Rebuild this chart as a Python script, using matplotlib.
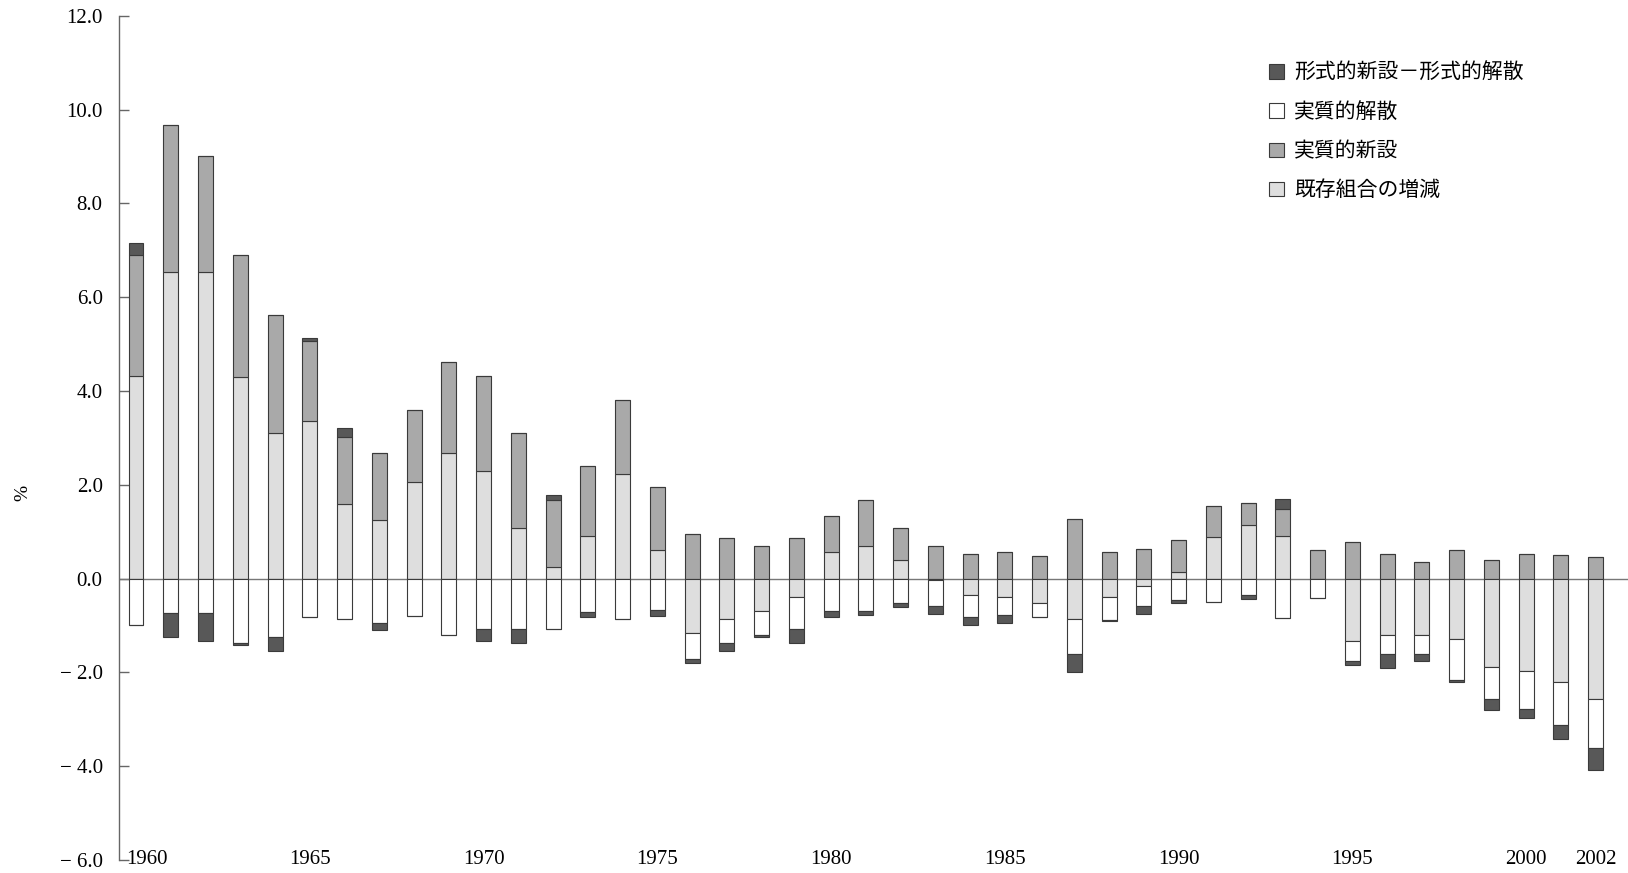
import numpy as np
import matplotlib
matplotlib.use('Agg')
import matplotlib.pyplot as plt
from matplotlib.patches import Patch

years = np.arange(1960, 2003)

# 既存組合の増減
existing = [4.32, 6.53, 6.53, 4.30, 3.10, 3.36, 1.58, 1.25, 2.05, 2.68,
            2.29, 1.08, 0.24, 0.90, 2.22, 0.60, -1.16, -0.86, -0.69, -0.39,
            0.57, 0.70, 0.39, -0.04, -0.35, -0.39, -0.53, -0.86, -0.39, -0.15,
            0.14, 0.89, 1.14, 0.90, 0.00, -1.33, -1.21, -1.20, -1.29, -1.89,
            -1.97, -2.21, -2.56]
# 実質的新設
new_real = [2.58, 3.14, 2.47, 2.59, 2.51, 1.71, 1.43, 1.43, 1.54, 1.93,
            2.04, 2.02, 1.43, 1.51, 1.59, 1.35, 0.95, 0.87, 0.70, 0.87,
            0.77, 0.97, 0.68, 0.70, 0.52, 0.57, 0.48, 1.27, 0.57, 0.63,
            0.68, 0.65, 0.47, 0.59, 0.60, 0.77, 0.52, 0.35, 0.60, 0.39,
            0.52, 0.50, 0.47]
# 実質的解散
dissolved = [-0.99, -0.74, -0.74, -1.38, -1.25, -0.82, -0.86, -0.94, -0.79, -1.20,
             -1.08, -1.08, -1.08, -0.71, -0.86, -0.66, -0.55, -0.51, -0.51, -0.68,
             -0.69, -0.69, -0.53, -0.55, -0.47, -0.39, -0.29, -0.74, -0.49, -0.43,
             -0.45, -0.50, -0.36, -0.83, -0.41, -0.43, -0.39, -0.40, -0.88, -0.67,
             -0.81, -0.91, -1.06]
# 形式的新設－形式的解散
formal_net = [0.25, -0.51, -0.58, -0.04, -0.29, 0.07, 0.21, -0.16, 0.0, 0.0,
              -0.26, -0.30, 0.12, -0.11, 0.0, -0.13, -0.09, -0.17, -0.05, -0.30,
              -0.12, -0.09, -0.07, -0.17, -0.17, -0.16, 0.0, -0.40, -0.03, -0.17,
              -0.08, 0.0, -0.08, 0.20, 0.0, -0.09, -0.30, -0.16, -0.03, -0.25,
              -0.19, -0.31, -0.46]

year_labels = [1960, 1965, 1970, 1975, 1980, 1985, 1990, 1995, 2000, 2002]
legend_labels = ['形式的新設－形式的解散', '実質的解散', '実質的新設', '既存組合の増減']

c_dark = '#585858'
c_mid = '#a9a9a9'
c_light = '#dedede'
c_white = '#ffffff'
edge = '#3a3a3a'

existing = np.array(existing)
new_real = np.array(new_real)
dissolved = np.array(dissolved)
formal_net = np.array(formal_net)

fig = plt.figure(figsize=(16.28, 8.73), dpi=100)
ax = fig.add_axes([0.0733, 0.0149, 0.9267, 0.967])

w = 0.43
kw = dict(width=w, edgecolor=edge, linewidth=0.8, zorder=3)

ex_pos = np.clip(existing, 0, None)
ex_neg = np.clip(existing, None, 0)

# positive side
ax.bar(years, ex_pos, color=c_light, **kw)
ax.bar(years, new_real, bottom=ex_pos, color=c_mid, **kw)
f_pos = np.clip(formal_net, 0, None)
ax.bar(years, f_pos, bottom=ex_pos + new_real, color=c_dark, **kw)

# negative side
ax.bar(years, ex_neg, color=c_light, **kw)
ax.bar(years, dissolved, bottom=ex_neg, color=c_white, **kw)
f_neg = np.clip(formal_net, None, 0)
ax.bar(years, f_neg, bottom=ex_neg + dissolved, color=c_dark, **kw)

ax.axhline(0, color='#777777', linewidth=1.0, zorder=2)

ax.set_xlim(1959.52, 2002.93)
ax.set_ylim(-6, 12)
ax.set_yticks(np.arange(-6, 13, 2))
ytl = []
for v in np.arange(-6, 13, 2):
    if v < 0:
        ytl.append('− %.1f' % abs(v))
    else:
        ytl.append('%.1f' % v)
ax.set_yticklabels(ytl, fontfamily='Liberation Serif', fontsize=15)
ax.tick_params(axis='y', direction='in', length=7, width=1, color='#666666', pad=12)
ax.set_xticks([])

for s in ['top', 'right', 'bottom']:
    ax.spines[s].set_visible(False)
ax.spines['left'].set_color('#666666')
ax.spines['left'].set_linewidth(1.0)

for yr in year_labels:
    if yr == 1960:
        ax.text(1959.72, -6, str(yr), ha='left', va='center',
                fontfamily='Liberation Serif', fontsize=15)
    else:
        ax.text(yr, -6, str(yr), ha='center', va='center',
                fontfamily='Liberation Serif', fontsize=15)

fig.text(0.014, 0.435, '%', rotation=90, ha='center', va='center',
         fontfamily='Liberation Serif', fontsize=14)

handles = [Patch(facecolor=c_dark, edgecolor=edge, linewidth=0.8),
           Patch(facecolor=c_white, edgecolor=edge, linewidth=0.8),
           Patch(facecolor=c_mid, edgecolor=edge, linewidth=0.8),
           Patch(facecolor=c_light, edgecolor=edge, linewidth=0.8)]
leg = fig.legend(handles, legend_labels, loc='upper left',
                 bbox_to_anchor=(0.7795, 0.929), frameon=False,
                 handlelength=0.7, handleheight=0.7, handletextpad=0.5,
                 labelspacing=0.82, borderpad=0, borderaxespad=0,
                 prop={'family': ['Noto Sans CJK JP', 'DejaVu Sans'], 'size': 15})

fig.savefig('out.png', dpi=100)
